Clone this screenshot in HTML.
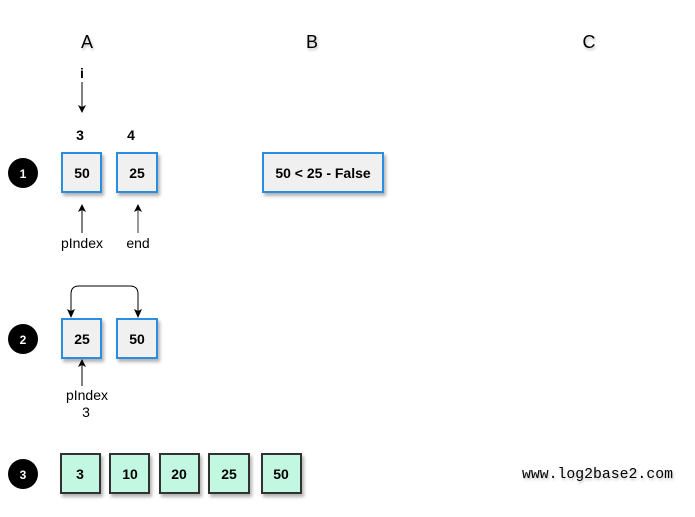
<!DOCTYPE html>
<html><head><meta charset="utf-8"><style>
html,body{margin:0;padding:0;background:#fff;}
svg{display:block;}
text{font-family:"Liberation Sans",Arial,sans-serif;}
text.mono{font-family:"Liberation Mono","Courier New",monospace;}
</style></head><body>
<svg width="695" height="517" viewBox="0 0 695 517" xmlns="http://www.w3.org/2000/svg">
<defs>
<filter id="sh" x="-20%" y="-20%" width="150%" height="150%">
<feDropShadow dx="2" dy="3" stdDeviation="1.5" flood-color="#000" flood-opacity="0.3"/>
</filter>
<filter id="ts" x="-20%" y="-20%" width="150%" height="150%">
<feDropShadow dx="1" dy="2" stdDeviation="1.2" flood-color="#000" flood-opacity="0.25"/>
</filter>
<marker id="ah" markerWidth="10" markerHeight="10" refX="8" refY="5" orient="auto" markerUnits="userSpaceOnUse">
<path d="M1,1 L9,5 L1,9 L3,5 Z" fill="#000"/>
</marker>
</defs>

<!-- Column headers -->
<g font-size="18" fill="#000" filter="url(#ts)" text-anchor="middle">
<text x="87" y="48">A</text>
<text x="312" y="48">B</text>
<text x="589" y="48">C</text>
</g>

<!-- Row 1 -->
<text x="82" y="78" font-size="14" font-weight="bold" text-anchor="middle">i</text>
<line x1="82" y1="82" x2="82" y2="112" stroke="#000" stroke-width="1" marker-end="url(#ah)"/>
<text x="80" y="140" font-size="14" font-weight="bold" text-anchor="middle">3</text>
<text x="131" y="140" font-size="14" font-weight="bold" text-anchor="middle">4</text>

<circle cx="23" cy="173" r="15" fill="#000"/>
<text x="23" y="178" font-size="12" font-weight="bold" fill="#fff" text-anchor="middle">1</text>

<g filter="url(#sh)">
<rect x="62" y="153" width="39" height="39" fill="#f0f0f0" stroke="#2c8ee0" stroke-width="2"/>
<rect x="117" y="153" width="40" height="39" fill="#f0f0f0" stroke="#2c8ee0" stroke-width="2"/>
<rect x="263" y="153" width="120" height="39" fill="#f0f0f0" stroke="#2c8ee0" stroke-width="2"/>
</g>
<text x="82" y="178" font-size="14" font-weight="bold" text-anchor="middle">50</text>
<text x="137" y="178" font-size="14" font-weight="bold" text-anchor="middle">25</text>
<text x="323" y="178" font-size="14" font-weight="bold" text-anchor="middle">50 &lt; 25 - False</text>

<line x1="82" y1="233" x2="82" y2="205" stroke="#000" stroke-width="1" marker-end="url(#ah)"/>
<line x1="138" y1="233" x2="138" y2="205" stroke="#555" stroke-width="1.2" marker-end="url(#ah)"/>
<text x="82" y="248" font-size="14" text-anchor="middle">pIndex</text>
<text x="138" y="248" font-size="14" text-anchor="middle">end</text>

<!-- Row 2 -->
<circle cx="23" cy="339" r="15" fill="#000"/>
<text x="23" y="344" font-size="12" font-weight="bold" fill="#fff" text-anchor="middle">2</text>

<path d="M71,316 L71,294 Q71,286 79,286 L130,286 Q138,286 138,294 L138,316" fill="none" stroke="#000" stroke-width="1"/>
<path d="M67,309 L71,318 L75,309 L71,311 Z" fill="#000"/>
<path d="M134,309 L138,318 L142,309 L138,311 Z" fill="#000"/>

<g filter="url(#sh)">
<rect x="62" y="319" width="39" height="39" fill="#f0f0f0" stroke="#2c8ee0" stroke-width="2"/>
<rect x="117" y="319" width="40" height="39" fill="#f0f0f0" stroke="#2c8ee0" stroke-width="2"/>
</g>
<text x="82" y="344" font-size="14" font-weight="bold" text-anchor="middle">25</text>
<text x="137" y="344" font-size="14" font-weight="bold" text-anchor="middle">50</text>

<line x1="82" y1="386" x2="82" y2="360" stroke="#000" stroke-width="1" marker-end="url(#ah)"/>
<text x="87" y="400" font-size="14" text-anchor="middle">pIndex</text>
<text x="86" y="417" font-size="14" text-anchor="middle">3</text>

<!-- Row 3 -->
<circle cx="23" cy="474" r="15" fill="#000"/>
<text x="23" y="479" font-size="12" font-weight="bold" fill="#fff" text-anchor="middle">3</text>

<g filter="url(#sh)" fill="#c2f7e2" stroke="#333" stroke-width="2">
<rect x="61" y="454" width="39" height="39"/>
<rect x="110" y="454" width="39" height="39"/>
<rect x="160" y="454" width="39" height="39"/>
<rect x="209" y="454" width="40" height="39"/>
<rect x="262" y="454" width="39" height="39"/>
</g>
<g font-size="14" font-weight="bold" text-anchor="middle">
<text x="80" y="479">3</text>
<text x="130" y="479">10</text>
<text x="179" y="479">20</text>
<text x="229" y="479">25</text>
<text x="281" y="479">50</text>
</g>

<text class="mono" x="522" y="478" font-size="14.8" fill="#000" filter="url(#ts)">www.log2base2.com</text>
</svg>
</body></html>
